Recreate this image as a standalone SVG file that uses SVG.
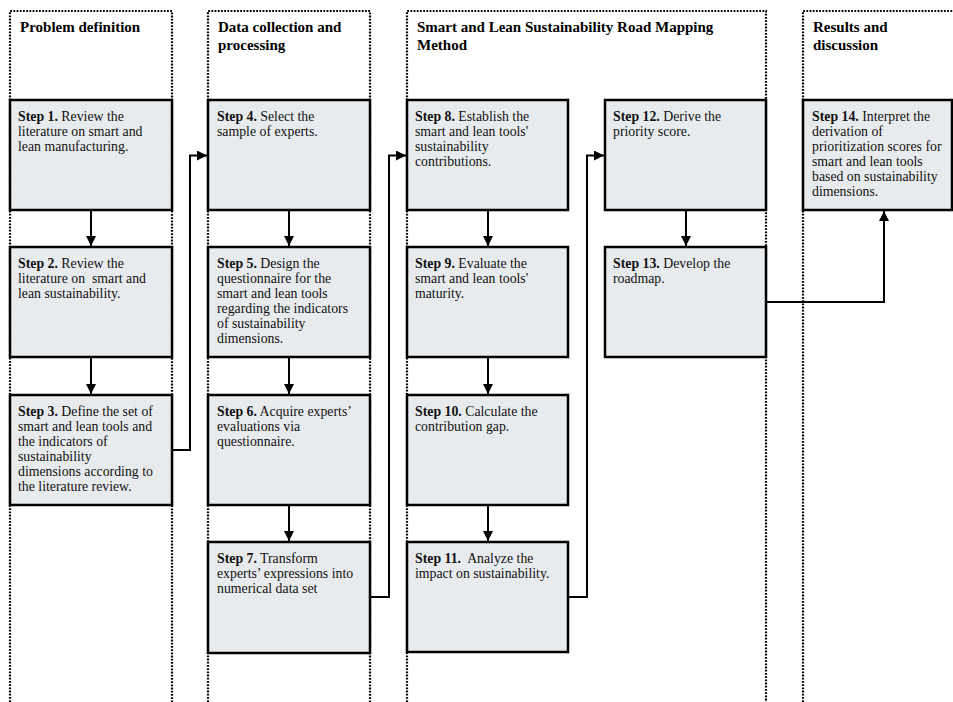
<svg xmlns="http://www.w3.org/2000/svg" width="953" height="702" viewBox="0 0 953 702">
<defs>
<style>
.lane{fill:none;stroke:#000;stroke-width:2.2;stroke-dasharray:1.8 1.4}
.box{fill:#e8ebee;stroke:#000;stroke-width:2.5}
.hdr{font-family:"Liberation Serif","Times New Roman",serif;font-weight:bold;font-size:15px;fill:#000}
.t{font-family:"Liberation Serif","Times New Roman",serif;font-size:13.8px;fill:#111;white-space:pre}
.t tspan.b{font-weight:bold}
.con{fill:none;stroke:#000;stroke-width:2}
</style>
<marker id="ah" viewBox="0 0 10 10" refX="10" refY="5" markerWidth="10" markerHeight="10" markerUnits="userSpaceOnUse" orient="auto">
<path d="M0,0 L10,5 L0,10 Z" fill="#000"/>
</marker>
</defs>
<rect width="953" height="702" fill="#fff"/>

<g id="lanes">
<g id="lane1"><path class="lane" d="M10,702 V11 H172 V702"/><text class="hdr" x="20" y="32">Problem definition</text></g>
<g id="lane2"><path class="lane" d="M208,702 V11 H370 V702"/><text class="hdr" x="218" y="32">Data collection and</text><text class="hdr" x="218" y="50">processing</text></g>
<g id="lane3"><path class="lane" d="M407,702 V11 H766 V702"/><text class="hdr" x="417" y="32">Smart and Lean Sustainability Road Mapping</text><text class="hdr" x="417" y="50">Method</text></g>
<g id="lane4"><path class="lane" d="M803,702 V11 H953"/><text class="hdr" x="813" y="32">Results and</text><text class="hdr" x="813" y="50">discussion</text></g>
</g>

<g id="connectors">
<path class="con" d="M91,210 V246" marker-end="url(#ah)"/>
<path class="con" d="M91,357 V394" marker-end="url(#ah)"/>
<path class="con" d="M172,450 H190 V155.5 H207" marker-end="url(#ah)"/>
<path class="con" d="M289,210 V246" marker-end="url(#ah)"/>
<path class="con" d="M289,357 V394" marker-end="url(#ah)"/>
<path class="con" d="M289,505 V541" marker-end="url(#ah)"/>
<path class="con" d="M370,597 H389 V155.5 H406" marker-end="url(#ah)"/>
<path class="con" d="M488,210 V246" marker-end="url(#ah)"/>
<path class="con" d="M488,357 V394" marker-end="url(#ah)"/>
<path class="con" d="M488,505 V541" marker-end="url(#ah)"/>
<path class="con" d="M568,597 H587 V155.5 H604" marker-end="url(#ah)"/>
<path class="con" d="M686,210 V246" marker-end="url(#ah)"/>
<path class="con" d="M766,302 H884 V211" marker-end="url(#ah)"/>
</g>

<g id="step1"><rect class="box" x="10" y="100" width="162" height="110"/>
<text class="t" x="18" y="121"><tspan class="b">Step 1.</tspan> Review the<tspan x="18" dy="15">literature on smart and</tspan><tspan x="18" dy="15">lean manufacturing.</tspan></text></g>
<g id="step2"><rect class="box" x="10" y="247" width="162" height="110"/>
<text class="t" x="18" y="268"><tspan class="b">Step 2.</tspan> Review the<tspan x="18" dy="15">literature on  smart and</tspan><tspan x="18" dy="15">lean sustainability.</tspan></text></g>
<g id="step3"><rect class="box" x="10" y="395" width="162" height="110"/>
<text class="t" x="18" y="416"><tspan class="b">Step 3.</tspan> Define the set of<tspan x="18" dy="15">smart and lean tools and</tspan><tspan x="18" dy="15">the indicators of</tspan><tspan x="18" dy="15">sustainability</tspan><tspan x="18" dy="15">dimensions according to</tspan><tspan x="18" dy="15">the literature review.</tspan></text></g>

<g id="step4"><rect class="box" x="208" y="100" width="162" height="110"/>
<text class="t" x="217" y="121"><tspan class="b">Step 4.</tspan> Select the<tspan x="217" dy="15">sample of experts.</tspan></text></g>
<g id="step5"><rect class="box" x="208" y="247" width="162" height="110"/>
<text class="t" x="217" y="268"><tspan class="b">Step 5.</tspan> Design the<tspan x="217" dy="15">questionnaire for the</tspan><tspan x="217" dy="15">smart and lean tools</tspan><tspan x="217" dy="15">regarding the indicators</tspan><tspan x="217" dy="15">of sustainability</tspan><tspan x="217" dy="15">dimensions.</tspan></text></g>
<g id="step6"><rect class="box" x="208" y="395" width="162" height="110"/>
<text class="t" x="217" y="416"><tspan class="b">Step 6.</tspan> Acquire experts’<tspan x="217" dy="15">evaluations via</tspan><tspan x="217" dy="15">questionnaire.</tspan></text></g>
<g id="step7"><rect class="box" x="208" y="542" width="162" height="111"/>
<text class="t" x="217" y="563"><tspan class="b">Step 7.</tspan> Transform<tspan x="217" dy="15">experts’ expressions into</tspan><tspan x="217" dy="15">numerical data set</tspan></text></g>

<g id="step8"><rect class="box" x="407" y="100" width="161" height="110"/>
<text class="t" x="415" y="121"><tspan class="b">Step 8.</tspan> Establish the<tspan x="415" dy="15">smart and lean tools'</tspan><tspan x="415" dy="15">sustainability</tspan><tspan x="415" dy="15">contributions.</tspan></text></g>
<g id="step9"><rect class="box" x="407" y="247" width="161" height="110"/>
<text class="t" x="415" y="268"><tspan class="b">Step 9.</tspan> Evaluate the<tspan x="415" dy="15">smart and lean tools'</tspan><tspan x="415" dy="15">maturity.</tspan></text></g>
<g id="step10"><rect class="box" x="407" y="395" width="161" height="110"/>
<text class="t" x="415" y="416"><tspan class="b">Step 10.</tspan> Calculate the<tspan x="415" dy="15">contribution gap.</tspan></text></g>
<g id="step11"><rect class="box" x="407" y="542" width="161" height="110"/>
<text class="t" x="415" y="563"><tspan class="b">Step 11.</tspan>  Analyze the<tspan x="415" dy="15">impact on sustainability.</tspan></text></g>

<g id="step12"><rect class="box" x="605" y="100" width="161" height="110"/>
<text class="t" x="613" y="121"><tspan class="b">Step 12.</tspan> Derive the<tspan x="613" dy="15">priority score.</tspan></text></g>
<g id="step13"><rect class="box" x="605" y="247" width="161" height="110"/>
<text class="t" x="613" y="268"><tspan class="b">Step 13.</tspan> Develop the<tspan x="613" dy="15">roadmap.</tspan></text></g>

<g id="step14"><rect class="box" x="803" y="100" width="149" height="110"/>
<text class="t" x="812" y="121"><tspan class="b">Step 14.</tspan> Interpret the<tspan x="812" dy="15">derivation of</tspan><tspan x="812" dy="15">prioritization scores for</tspan><tspan x="812" dy="15">smart and lean tools</tspan><tspan x="812" dy="15">based on sustainability</tspan><tspan x="812" dy="15">dimensions.</tspan></text></g>
</svg>
